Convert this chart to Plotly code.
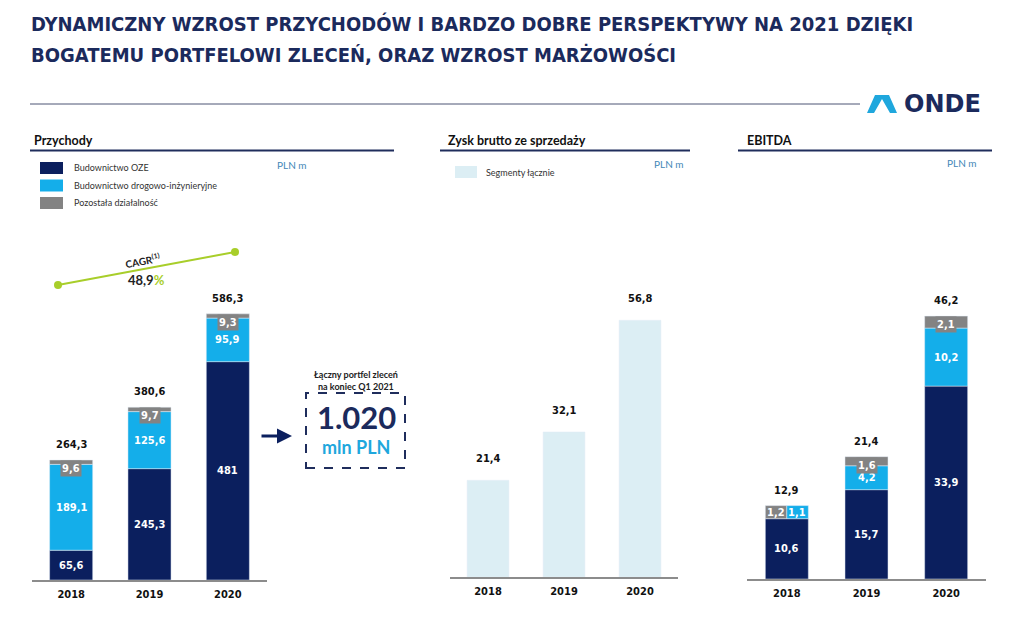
import plotly.graph_objects as go

# ---------------- data ----------------
years = ["2018", "2019", "2020"]
rev_oze = [65.6, 245.3, 481.0]
rev_road = [189.1, 125.6, 95.9]
rev_other = [9.6, 9.7, 9.3]
rev_total = [264.3, 380.6, 586.3]
gross_total = [21.4, 32.1, 56.8]
ebitda_oze = [10.6, 15.7, 33.9]
ebitda_road = [1.1, 4.2, 10.2]
ebitda_other = [1.2, 1.6, 2.1]
ebitda_total = [12.9, 21.4, 46.2]
legend_rev = ["Budownictwo OZE", "Budownictwo drogowo-inżynieryjne", "Pozostała działalność"]
legend_gross = ["Segmenty łącznie"]
cagr_value = "48,9"
portfolio_value = "1.020"

# ---------------- style ----------------
W, H = 1024, 624
NAVY = "#0B1F5E"
CYAN = "#14AEEA"
GREY = "#838383"
LIGHT = "#DCEEF4"
GREEN = "#A8CE2A"
TITLE = "#1B2A5C"
STEEL = "#3F87B7"
AXIS = "#8C8C8C"
NARROW = "Liberation Sans Narrow, DejaVu Sans Condensed, Arial Narrow, sans-serif"
HUM = "Lato, Open Sans, sans-serif"


def px(x):
    return x / W


def py(y):
    return 1 - y / H


def fmt(v):
    if abs(v - round(v)) < 1e-9:
        return str(int(round(v)))
    return f"{v:.1f}".replace(".", ",")


fig = go.Figure()
annotations = []
shapes = []

BW = 0.55

# ---------- Revenue ----------
base_road = rev_oze
base_other = [a + b for a, b in zip(rev_oze, rev_road)]
tops_rev = [a + b for a, b in zip(base_other, rev_other)]
fig.add_trace(go.Bar(x=years, y=rev_oze, base=[0] * 3, marker_color=NAVY, width=BW,
                     xaxis="x", yaxis="y", hoverinfo="skip"))
fig.add_trace(go.Bar(x=years, y=rev_road, base=base_road, marker_color=CYAN, width=BW,
                     xaxis="x", yaxis="y", hoverinfo="skip"))
fig.add_trace(go.Bar(x=years, y=rev_other, base=base_other, marker_color=GREY, width=BW,
                     xaxis="x", yaxis="y", hoverinfo="skip"))

# ---------- Gross profit ----------
fig.add_trace(go.Bar(x=years, y=gross_total, marker_color=LIGHT, width=BW,
                     xaxis="x2", yaxis="y2", hoverinfo="skip"))

# ---------- EBITDA ----------
EW = 0.54
fig.add_trace(go.Bar(x=years, y=ebitda_oze, base=[0] * 3, marker_color=NAVY, width=EW,
                     xaxis="x3", yaxis="y3", hoverinfo="skip"))
e_base_other = [a + b for a, b in zip(ebitda_oze, ebitda_road)]
e_tops = [a + b for a, b in zip(e_base_other, ebitda_other)]
fig.add_trace(go.Bar(x=years[1:], y=ebitda_road[1:], base=ebitda_oze[1:], marker_color=CYAN,
                     width=EW, xaxis="x3", yaxis="y3", hoverinfo="skip"))
fig.add_trace(go.Bar(x=years[1:], y=ebitda_other[1:], base=e_base_other[1:], marker_color=GREY,
                     width=EW, xaxis="x3", yaxis="y3", hoverinfo="skip"))
# 2018: grey and cyan parts drawn side by side above OZE
band = ebitda_total[0] - ebitda_oze[0]
fig.add_trace(go.Bar(x=[years[0]], y=[band], base=[ebitda_oze[0]], marker_color=GREY,
                     width=EW / 2, offset=-EW / 2, xaxis="x3", yaxis="y3", hoverinfo="skip"))
fig.add_trace(go.Bar(x=[years[0]], y=[band], base=[ebitda_oze[0]], marker_color=CYAN,
                     width=EW / 2, offset=0, xaxis="x3", yaxis="y3", hoverinfo="skip"))


def lab(xr, yr, x, y, text, color="white", size=11, yanchor="middle", yshift=0, xshift=0, bg=None):
    d = dict(xref=xr, yref=yr, x=x, y=y, text=f"<b>{text}</b>", showarrow=False,
             font=dict(family=NARROW, size=size, color=color), xanchor="center", yanchor=yanchor,
             yshift=yshift, xshift=xshift)
    if bg:
        d.update(bgcolor=bg, borderpad=1)
    annotations.append(d)


for i in range(len(years)):
    lab("x", "y", i, rev_oze[i] / 2, fmt(rev_oze[i]))
    lab("x", "y", i, rev_oze[i] + rev_road[i] / 2, fmt(rev_road[i]))
    lab("x", "y", i, tops_rev[i], fmt(rev_other[i]), yanchor="top", bg=GREY)
    lab("x", "y", i, tops_rev[i], fmt(rev_total[i]), color="#111111", yanchor="bottom", yshift=7)

    lab("x2", "y2", i, gross_total[i], fmt(gross_total[i]), color="#111111", yanchor="bottom", yshift=13)

    lab("x3", "y3", i, ebitda_oze[i] / 2, fmt(ebitda_oze[i]))
    lab("x3", "y3", i, ebitda_total[i], fmt(ebitda_total[i]), color="#111111", yanchor="bottom", yshift=7)
    if i > 0:
        lab("x3", "y3", i, ebitda_oze[i] + ebitda_road[i] / 2, fmt(ebitda_road[i]))
        lab("x3", "y3", i, e_tops[i], fmt(ebitda_other[i]), yanchor="top", bg=GREY)
    else:
        mid = ebitda_oze[0] + band / 2
        lab("x3", "y3", i, mid, fmt(ebitda_other[0]), xshift=-10.5)
        lab("x3", "y3", i, mid, fmt(ebitda_road[0]), xshift=10.5)


# ---------------- axes ----------------
def xax(d0, d1, anchor):
    return dict(domain=[px(d0), px(d1)], anchor=anchor, type="category", range=[-0.5, 2.5],
                showline=True, linecolor=AXIS, linewidth=2, showgrid=False, zeroline=False,
                ticks="", tickvals=years, ticktext=[f"<b>{y}</b>" for y in years],
                ticklabelstandoff=3,
                tickfont=dict(family=NARROW, size=11, color="#111111"), fixedrange=True)


def yax(b, rng, anchor):
    return dict(domain=[py(b), py(300)], anchor=anchor, range=[0, rng], visible=False,
                showgrid=False, zeroline=False, fixedrange=True)


def note(x, y, text, size, color, family=HUM, xanchor="center", **kw):
    d = dict(xref="paper", yref="paper", x=px(x), y=py(y), xanchor=xanchor, yanchor="middle",
             text=text, showarrow=False, font=dict(family=family, size=size, color=color))
    d.update(kw)
    annotations.append(d)


# ---------------- decorations ----------------
# title
note(29, 24, "<b>DYNAMICZNY WZROST PRZYCHODÓW I BARDZO DOBRE PERSPEKTYWY NA 2021 DZIĘKI</b>",
     20, TITLE, family=NARROW, xanchor="left")
note(29, 55, "<b>BOGATEMU PORTFELOWI ZLECEŃ, ORAZ WZROST MARŻOWOŚCI</b>",
     20, TITLE, family=NARROW, xanchor="left")
# header line
shapes.append(dict(type="line", xref="paper", yref="paper", x0=px(30), x1=px(860), y0=py(104), y1=py(104),
                   line=dict(color="#4D5475", width=1)))
# logo
logo = (f"M {px(867)},{py(113)} L {px(875)},{py(95)} L {px(889)},{py(95)} L {px(897)},{py(113)} "
        f"L {px(890)},{py(113)} L {px(882)},{py(99)} L {px(874)},{py(113)} Z")
shapes.append(dict(type="path", xref="paper", yref="paper", path=logo, fillcolor="#1FA7DD",
                   line=dict(width=0)))
note(902, 104.5, "<b>ONDE</b>", 24, TITLE, family="DejaVu Sans, sans-serif", xanchor="left")

# section headers
for (x, t, l0, l1) in [(32, "Przychody", 30, 394), (446, "Zysk brutto ze sprzedaży", 440, 690),
                       (745, "EBITDA", 738, 992)]:
    note(x, 140, f"<b>{t}</b>", 12.5, "#111111", xanchor="left")
    shapes.append(dict(type="line", xref="paper", yref="paper", x0=px(l0), x1=px(l1), y0=py(150.5),
                       y1=py(150.5), line=dict(color="#1F2D5C", width=2)))

for (x, y) in [(275, 165), (652, 164), (945, 163)]:
    note(x, y, "PLN m", 10, STEEL, xanchor="left")

# legends
for i, (t, c) in enumerate(zip(legend_rev, [NAVY, CYAN, GREY])):
    yc = 168 + i * 17.5
    shapes.append(dict(type="rect", xref="paper", yref="paper", x0=px(40), x1=px(63), y0=py(yc - 6),
                       y1=py(yc + 6), fillcolor=c, line=dict(width=0)))
    note(72, yc, t, 9, "#333333", xanchor="left")
shapes.append(dict(type="rect", xref="paper", yref="paper", x0=px(455), x1=px(477), y0=py(166),
                   y1=py(178), fillcolor=LIGHT, line=dict(width=0)))
note(484, 172.5, legend_gross[0], 9, "#333333", xanchor="left")

# CAGR
shapes.append(dict(type="line", xref="paper", yref="paper", x0=px(58), y0=py(285), x1=px(235), y1=py(252),
                   line=dict(color=GREEN, width=2)))
for (cx, cy) in [(58, 285), (235, 252)]:
    shapes.append(dict(type="circle", xref="paper", yref="paper", x0=px(cx - 4), x1=px(cx + 4),
                       y0=py(cy - 4), y1=py(cy + 4), fillcolor=GREEN, line=dict(width=0)))
note(142, 260, "<b>CAGR<sup>(1)</sup></b>", 10, "#222222", textangle=-11)
note(146, 280, f"<b>{cagr_value}</b><span style='color:{GREEN}'><b>%</b></span>", 13, "#222222")

# portfolio box
shapes.append(dict(type="rect", xref="paper", yref="paper", x0=px(306), x1=px(405), y0=py(468), y1=py(393),
                   line=dict(color="#1F2D5C", width=2, dash="dash")))
note(356, 374, "<b>Łączny portfel zleceń</b>", 9, "#222222")
note(356, 386, "<b>na koniec Q1 2021</b>", 9, "#222222")
note(356, 417, f"<b>{portfolio_value}</b>", 31, TITLE)
note(356, 447, "<b>mln PLN</b>", 18, "#1FA7DD")
# arrow
annotations.append(dict(xref="paper", yref="paper", x=px(292), y=py(436), ax=-32, ay=0, text="",
                        showarrow=True, arrowhead=2, arrowsize=1, arrowwidth=3, arrowcolor=NAVY))

fig.update_layout(
    width=W, height=H, margin=dict(l=0, r=0, t=0, b=0),
    paper_bgcolor="white", plot_bgcolor="rgba(0,0,0,0)",
    barmode="overlay", showlegend=False,
    xaxis=xax(32, 267, "y"), yaxis=yax(580, 280 / 0.454, "x"),
    xaxis2=xax(450, 678, "y2"), yaxis2=yax(577, 277 / 4.52, "x2"),
    xaxis3=xax(747, 986, "y3"), yaxis3=yax(579, 279 / 5.69, "x3"),
    annotations=annotations, shapes=shapes,
)

fig.write_html("out.html")
